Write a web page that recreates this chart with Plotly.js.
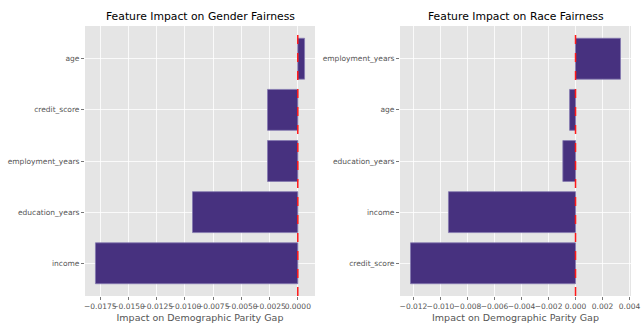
<!DOCTYPE html>
<html>
<head>
<meta charset="utf-8">
<script src="https://cdn.plot.ly/plotly-3.0.1.min.js"></script>
<style>html,body{margin:0;padding:0;background:#fff;}#chart{width:642px;height:327px;}</style>
</head>
<body>
<div id="chart"></div>
<script>
// Data (bottom-to-top order)
const genderFeatures = ['income', 'education_years', 'employment_years', 'credit_score', 'age'];
const genderImpact = [-0.01793, -0.00933, -0.00268, -0.00268, 0.00060];
const raceFeatures = ['credit_score', 'income', 'education_years', 'age', 'employment_years'];
const raceImpact = [-0.01222, -0.00941, -0.00094, -0.00044, 0.00333];
const genderTicks = [-0.0175, -0.015, -0.0125, -0.01, -0.0075, -0.005, -0.0025, 0];
const raceTicks = [-0.012, -0.010, -0.008, -0.006, -0.004, -0.002, 0, 0.002, 0.004];
const titles = ['Feature Impact on Gender Fairness', 'Feature Impact on Race Fairness'];
const xTitle = 'Impact on Demographic Parity Gap';

const barColor = '#47317f';
const edgeColor = '#8478b0';
const font = 'DejaVu Sans, sans-serif';

function pad(arr) {
  const mn = Math.min(...arr, 0), mx = Math.max(...arr, 0);
  const r = mx - mn;
  return [mn - 0.05 * r, mx + 0.05 * r];
}

const traces = [
  {type: 'bar', orientation: 'h', x: genderImpact, y: genderFeatures, xaxis: 'x', yaxis: 'y',
   marker: {color: barColor, line: {color: edgeColor, width: 0.8}}, width: 0.8, hoverinfo: 'none'},
  {type: 'bar', orientation: 'h', x: raceImpact, y: raceFeatures, xaxis: 'x2', yaxis: 'y2',
   marker: {color: barColor, line: {color: edgeColor, width: 0.8}}, width: 0.8, hoverinfo: 'none'}
];

const yDom = [1 - 296 / 327, 1 - 26 / 327];
const axCommon = {
  showgrid: true, gridcolor: '#ffffff', gridwidth: 0.8, zeroline: false, showline: false,
  ticks: 'outside', ticklen: 3, tickwidth: 0.8, tickcolor: '#555',
  tickfont: {family: font, size: 7.5, color: '#555'}, tickangle: 0
};

const layout = {
  width: 642, height: 327,
  margin: {l: 0, r: 0, t: 0, b: 0},
  paper_bgcolor: '#ffffff', plot_bgcolor: '#e5e5e5',
  showlegend: false,
  font: {family: font},
  xaxis: Object.assign({}, axCommon, {
    domain: [85 / 642, 315 / 642], anchor: 'y', range: pad(genderImpact),
    tickvals: genderTicks, tickformat: '.4f',
    title: {text: xTitle, font: {family: font, size: 9.5, color: '#555'}, standoff: 4}
  }),
  yaxis: Object.assign({}, axCommon, {
    domain: yDom, anchor: 'x', range: [-0.64, 4.64], type: 'category',
    categoryorder: 'array', categoryarray: genderFeatures
  }),
  xaxis2: Object.assign({}, axCommon, {
    domain: [400 / 642, 631 / 642], anchor: 'y2', range: pad(raceImpact),
    tickvals: raceTicks, tickformat: '.3f',
    title: {text: xTitle, font: {family: font, size: 9.5, color: '#555'}, standoff: 4}
  }),
  yaxis2: Object.assign({}, axCommon, {
    domain: yDom, anchor: 'x2', range: [-0.64, 4.64], type: 'category',
    categoryorder: 'array', categoryarray: raceFeatures
  }),
  shapes: [
    {type: 'line', xref: 'x', yref: 'y domain', x0: 0, x1: 0, y0: 0, y1: 1,
     line: {color: '#ff1a1a', width: 1.5, dash: 'dash'}},
    {type: 'line', xref: 'x2', yref: 'y2 domain', x0: 0, x1: 0, y0: 0, y1: 1,
     line: {color: '#ff1a1a', width: 1.5, dash: 'dash'}}
  ],
  annotations: [
    {text: titles[0], xref: 'x domain', yref: 'paper', x: 0.5, y: 1 - 17 / 327,
     xanchor: 'center', yanchor: 'middle', showarrow: false,
     font: {family: font, size: 10.8, color: '#000'}},
    {text: titles[1], xref: 'x2 domain', yref: 'paper', x: 0.5, y: 1 - 17 / 327,
     xanchor: 'center', yanchor: 'middle', showarrow: false,
     font: {family: font, size: 10.8, color: '#000'}}
  ]
};

Plotly.newPlot('chart', traces, layout, {staticPlot: true, displayModeBar: false});
</script>
</body>
</html>
